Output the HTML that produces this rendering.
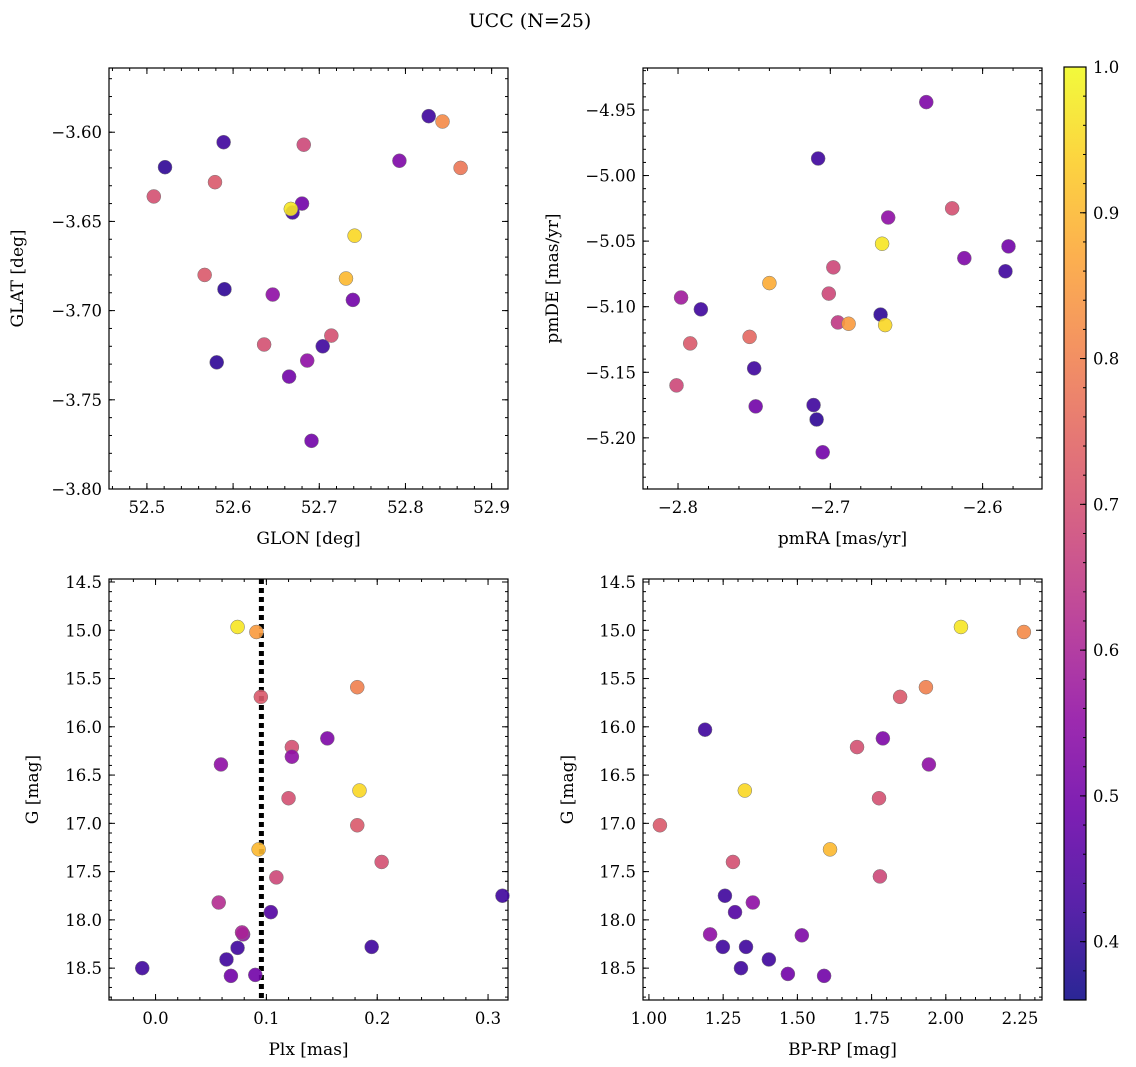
<!DOCTYPE html>
<html><head><meta charset="utf-8"><style>
html,body{margin:0;padding:0;background:#fff;}
svg{display:block;font-family:"DejaVu Serif","Liberation Serif",serif;}
</style></head><body>
<svg id="fig" width="1136" height="1067" viewBox="0 0 1136 1067">
<text x="530" y="27" font-size="19" text-anchor="middle">UCC (N=25)</text>
</svg>
<script>
// ---- data arrays ----
const glon = [52.521,52.508,52.589,52.579,52.567,52.590,52.581,52.646,52.636,52.682,52.680,52.669,52.667,52.793,52.827,52.843,52.864,52.741,52.731,52.739,52.714,52.704,52.686,52.665,52.691];
const glat = [-3.6196,-3.636,-3.6056,-3.628,-3.680,-3.688,-3.729,-3.691,-3.719,-3.607,-3.640,-3.645,-3.643,-3.616,-3.591,-3.594,-3.620,-3.658,-3.682,-3.694,-3.714,-3.720,-3.728,-3.737,-3.773];
const probPos = [0.40,0.70,0.42,0.72,0.72,0.40,0.40,0.55,0.70,0.68,0.50,0.42,0.97,0.52,0.42,0.82,0.78,0.95,0.90,0.50,0.70,0.42,0.55,0.50,0.50];

const pmra = [-2.637,-2.708,-2.662,-2.620,-2.666,-2.612,-2.583,-2.585,-2.698,-2.701,-2.695,-2.667,-2.664,-2.688,-2.740,-2.753,-2.750,-2.749,-2.711,-2.709,-2.705,-2.798,-2.785,-2.792,-2.801];
const pmde = [-4.944,-4.987,-5.032,-5.025,-5.052,-5.063,-5.054,-5.073,-5.070,-5.090,-5.112,-5.106,-5.114,-5.113,-5.082,-5.123,-5.147,-5.176,-5.175,-5.186,-5.211,-5.093,-5.102,-5.128,-5.160];
const probPm = [0.52,0.42,0.55,0.70,0.97,0.52,0.50,0.42,0.68,0.68,0.65,0.40,0.95,0.85,0.88,0.75,0.42,0.50,0.42,0.40,0.50,0.58,0.42,0.72,0.68];

const plx = [0.074,0.091,0.095,0.182,0.123,0.155,0.123,0.059,0.184,0.120,0.182,0.093,0.204,0.109,0.057,0.313,0.104,0.079,0.078,0.195,0.074,0.064,-0.012,0.068,0.090];
const gPlx = [14.966,15.018,15.69,15.59,16.21,16.12,16.31,16.39,16.66,16.74,17.02,17.27,17.40,17.56,17.82,17.75,17.92,18.15,18.13,18.28,18.29,18.41,18.50,18.58,18.57];
const probPlx = [0.97,0.85,0.72,0.80,0.70,0.52,0.55,0.55,0.95,0.70,0.72,0.90,0.70,0.68,0.62,0.42,0.45,0.55,0.60,0.42,0.42,0.42,0.42,0.50,0.50];
const plxMedian = 0.0955;

const bprp = [2.051,2.263,1.933,1.846,1.189,1.788,1.701,1.943,1.323,1.775,1.037,1.610,1.283,1.778,1.256,1.350,1.290,1.206,1.515,1.249,1.327,1.404,1.310,1.468,1.590];
const gCmd = [14.966,15.018,15.59,15.69,16.03,16.12,16.21,16.39,16.66,16.74,17.02,17.27,17.40,17.55,17.75,17.82,17.92,18.15,18.16,18.28,18.28,18.41,18.50,18.56,18.58];
const probCmd = [0.97,0.82,0.80,0.72,0.42,0.52,0.70,0.55,0.95,0.70,0.72,0.90,0.70,0.68,0.42,0.55,0.45,0.55,0.52,0.42,0.42,0.42,0.42,0.50,0.50];

const cbTicks = [0.4,0.5,0.6,0.7,0.8,0.9,1.0];
const vmin = 0.36, vmax = 1.0;

const NS = "http://www.w3.org/2000/svg";
const svg = document.getElementById('fig');
function mk(tag, attrs, parent){ const e=document.createElementNS(NS,tag); for(const k in attrs) e.setAttribute(k,attrs[k]); (parent||svg).appendChild(e); return e; }

const stops=["#0d0887","#41049d","#6a00a8","#8f0da4","#b12a90","#cc4778","#e16462","#f2844b","#fca636","#fcce25","#f0f921"];
function hex(h){return [parseInt(h.slice(1,3),16),parseInt(h.slice(3,5),16),parseInt(h.slice(5,7),16)];}
function plasma(t){ t=Math.max(0,Math.min(1,t)); const f=t*10, i=Math.min(9,Math.floor(f)), r=f-i; const a=hex(stops[i]), b=hex(stops[i+1]); return `rgb(${a.map((v,k)=>Math.round(v+(b[k]-v)*r)).join(',')})`; }
function cmap(v){ return plasma((v-vmin)/(vmax-vmin)); }
function fmt(v,d){ const s=Math.abs(v).toFixed(d); return (v< -1e-9?'\u2212':'')+s; }

const TFS = 16.5, LFS = 17;

function panel(cfg){
  const {name,L,T,R,B,xmin,xmax,ymin,ymax,invY,xMaj,xMin,yMaj,yMin,xd,yd,xs,ys,cs,xlabel,ylabel} = cfg;
  const g = mk('g',{});
  
  
  const X = v => L + (v-xmin)/(xmax-xmin)*(R-L);
  const Y = v => invY ? T + (v-ymin)/(ymax-ymin)*(B-T) : B - (v-ymin)/(ymax-ymin)*(B-T);
  const tg = mk('g',{stroke:'#000','stroke-width':1},g);
  function ticks(step,len,axis,label,dec){
    const lo = axis==='x'?xmin:ymin, hi = axis==='x'?xmax:ymax;
    for(let k=Math.ceil(lo/step-1e-6); k*step<=hi+1e-9; k++){
      const v=+(k*step).toFixed(6);
      if(axis==='x'){ const x=X(v);
        mk('line',{x1:x,x2:x,y1:B,y2:B-len},tg); mk('line',{x1:x,x2:x,y1:T,y2:T+len},tg);
        if(label){ const t=mk('text',{x:x,y:B+24,'font-size':TFS,'text-anchor':'middle',stroke:'none'},g); t.textContent=fmt(v,dec);
            }
      } else { const y=Y(v);
        mk('line',{x1:L,x2:L+len,y1:y,y2:y},tg); mk('line',{x1:R,x2:R-len,y1:y,y2:y},tg);
        if(label){ const t=mk('text',{x:L-7,y:y+6,'font-size':TFS,'text-anchor':'end',stroke:'none'},g); t.textContent=fmt(v,dec);
            }
      }
    }
  }
  ticks(xMin,3,'x',false); ticks(xMaj,6,'x',true,xd);
  ticks(yMin,3,'y',false); ticks(yMaj,6,'y',true,yd);
  const fr = mk('rect',{x:L,y:T,width:R-L,height:B-T,fill:'none',stroke:'#000','stroke-width':1.2},g);
   
  if(cfg.vline!==undefined){
    const vl=mk('line',{x1:X(cfg.vline),x2:X(cfg.vline),y1:T,y2:B,stroke:'#000','stroke-width':5,'stroke-dasharray':'5,4'},g);
     
  }
  for(let i=0;i<xs.length;i++){
    const c=mk('circle',{cx:X(xs[i]),cy:Y(ys[i]),r:7,fill:cmap(cs[i]),'fill-opacity':0.9,stroke:'#777','stroke-width':0.5},g);
    
    
  }
  const xl=mk('text',{x:(L+R)/2,y:B+55,'font-size':LFS,'text-anchor':'middle'},g); xl.textContent=xlabel;
   
  const yx=cfg.ylx, yy=(T+B)/2;
  const yl=mk('text',{x:yx,y:yy,'font-size':LFS,'text-anchor':'middle',transform:`rotate(-90 ${yx} ${yy})`},g); yl.textContent=ylabel;
   
}

panel({name:'position-panel',L:109,T:68,R:508,B:489,xmin:52.456,xmax:52.919,ymin:-3.80,ymax:-3.564,xMaj:0.1,xMin:0.02,yMaj:0.05,yMin:0.01,xd:1,yd:2,xs:glon,ys:glat,cs:probPos,xlabel:'GLON [deg]',ylabel:'GLAT [deg]',ylx:23});
panel({name:'proper-motion-panel',L:643,T:68,R:1042,B:489,xmin:-2.823,xmax:-2.561,ymin:-5.239,ymax:-4.918,xMaj:0.1,xMin:0.02,yMaj:0.05,yMin:0.01,xd:1,yd:2,xs:pmra,ys:pmde,cs:probPm,xlabel:'pmRA [mas/yr]',ylabel:'pmDE [mas/yr]',ylx:558});
panel({name:'parallax-panel',L:109,T:579,R:508,B:1000,xmin:-0.042,xmax:0.318,ymin:14.469,ymax:18.83,invY:true,xMaj:0.1,xMin:0.02,yMaj:0.5,yMin:0.1,xd:1,yd:1,xs:plx,ys:gPlx,cs:probPlx,vline:plxMedian,xlabel:'Plx [mas]',ylabel:'G [mag]',ylx:38});
panel({name:'cmd-panel',L:643,T:579,R:1042,B:1000,xmin:0.98,xmax:2.324,ymin:14.469,ymax:18.83,invY:true,xMaj:0.25,xMin:0.05,yMaj:0.5,yMin:0.1,xd:2,yd:1,xs:bprp,ys:gCmd,cs:probCmd,xlabel:'BP-RP [mag]',ylabel:'G [mag]',ylx:573});

// colorbar
(function(){
  const L=1064,R=1086,T=67,B=1000;
  const g=mk('g',{});  
  const defs=mk('defs',{},g);
  const lg=mk('linearGradient',{id:'cbg',x1:0,y1:1,x2:0,y2:0},defs);
  for(let i=0;i<=20;i++){ mk('stop',{offset:i/20,'stop-color':plasma(i/20)},lg); }
  mk('rect',{x:L,y:T,width:R-L,height:B-T,fill:'url(#cbg)','fill-opacity':0.88},g);
  mk('rect',{x:L,y:T,width:R-L,height:B-T,fill:'none',stroke:'#000','stroke-width':1.2},g);
  const Y=v=>B-(v-vmin)/(vmax-vmin)*(B-T);
  for(let v=0.36; v<=1.0001; v+=0.02){ const y=Y(v); mk('line',{x1:R,x2:R-3,y1:y,y2:y,stroke:'#000'},g); }
  cbTicks.forEach(v=>{ const y=Y(v); mk('line',{x1:R,x2:R-6,y1:y,y2:y,stroke:'#000'},g);
    const t=mk('text',{x:R+7,y:y+6,'font-size':TFS},g); t.textContent=v.toFixed(1);
      });
})();
</script>
</body></html>
